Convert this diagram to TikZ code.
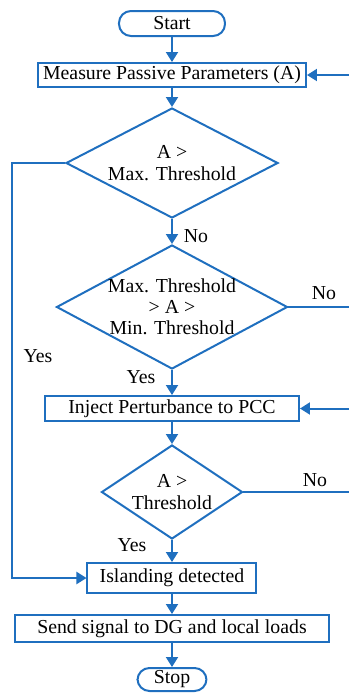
\documentclass[tikz,border=0pt]{standalone}
\usepackage{fontspec}
\setmainfont{Liberation Serif}
\usetikzlibrary{shapes,arrows.meta,positioning}
\definecolor{flowblue}{HTML}{1F6FBF}

\begin{document}
\begin{tikzpicture}[x=0.5pt, y=-0.5pt, align=center, node distance=12.5pt, font=\fontsize{9.9}{10.8}\selectfont]
    \tikzset{
        term/.style     =   { rectangle
                            , rounded corners=6pt
                            , draw=flowblue
                            , line width=1pt
                            , inner sep=0pt
        }
        , proc/.style   =   { rectangle
                            , draw=flowblue
                            , line width=1pt
                            , inner sep=0pt
        }
        , dec/.style    =   { diamond
                            , draw=flowblue
                            , line width=1pt
                            , inner xsep=-15pt
                            , inner ysep=-10pt
        }
        , arrow/.style  =   { draw=flowblue
                            , line width=1pt
                            , -{Triangle[width=6pt,length=5pt]}
        }
        , line/.style   =   { draw=flowblue
                            , line width=1pt
        }
    }
    \useasboundingbox (0,0) rectangle (349,693);

    \node(start)[term, minimum width=53pt, minimum height=12.5pt] at (172,23.5) {Start};
    \node(measure)[proc, minimum width=134pt, minimum height=12pt, below=12.5pt of start] {Measure Passive Parameters (A)};
    \node(d1)[dec, minimum width=106pt, minimum height=55pt, below=9.5pt of measure] {A >\\Max. Threshold};
    \node(d2)[dec, minimum width=115.5pt, minimum height=62pt, below=12.5pt of d1, font=\fontsize{9.9}{10.5}\selectfont] {Max. Threshold\\> A >\\Min. Threshold};
    \node(inject)[proc, minimum width=127pt, minimum height=12.5pt, below=12.5pt of d2] {Inject Perturbance to PCC};
    \node(d3)[dec, minimum width=70.5pt, minimum height=47pt, below=11pt of inject] {A >\\Threshold};
    \node(island)[proc, minimum width=84.5pt, minimum height=15pt, below=11pt of d3] {Islanding detected};
    \node(send)[proc, minimum width=157pt, minimum height=13.5pt, below=10pt of island] {Send signal to DG and local loads};
    \node(stop)[term, minimum width=34.5pt, minimum height=11.5pt, below=12pt of send] {Stop};

    \coordinate(rim) at (349,0);

    \node(noA)  at (196,236) {No};
    \node(noB)  at (324,293) {No};
    \node(noC)  at (315,480) {No};
    \node(yesA) at (38,356)  {Yes};
    \node(yesB) at (141,377) {Yes};
    \node(yesC) at (132,545) {Yes};

    \draw[arrow] (start) -- (measure);
    \draw[arrow] (measure) -- (d1);
    \draw[arrow] (d1) -- (d2);
    \draw[arrow] (d2) -- (inject);
    \draw[arrow] (inject) -- (d3);
    \draw[arrow] (d3) -- (island);
    \draw[arrow] (island) -- (send);
    \draw[arrow] (send) -- (stop);

    \draw[arrow] (d1.west) -- ++(-53,0) |- (island.west);
    \draw[line] (d2.east) -- (d2.east -| rim);
    \draw[line] (d3.east) -- (d3.east -| rim);
    \draw[arrow] (rim |- measure) -- (measure);
    \draw[arrow] (rim |- inject) -- (inject);
\end{tikzpicture}
\end{document}
